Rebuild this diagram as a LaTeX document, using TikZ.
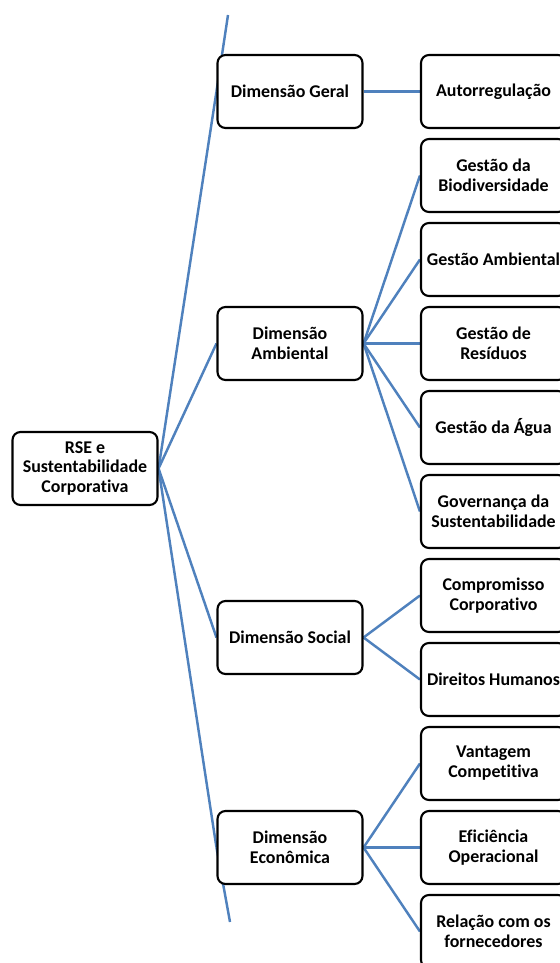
\documentclass[tikz,border=0pt]{standalone}
\usepackage{fontspec}
\setmainfont{Carlito}[Ligatures=NoCommon]
\usetikzlibrary{positioning,backgrounds}
\definecolor{linkblue}{RGB}{79,129,189}
\tikzset{
	box/.style={draw=black,line width=1.2pt,rounded corners=4.5pt,fill=white,
		minimum width=2.9cm,minimum height=1.46cm,inner sep=1pt,align=center,
		font=\fontsize{10.2}{11.3}\selectfont\bfseries},
	link/.style={draw=linkblue,line width=1.4pt}
}

\begin{document}
\begin{tikzpicture}[x=0.02cm,y=-0.02cm]
	\useasboundingbox (0,0) rectangle (560,963);
	\clip (0,0) rectangle (560,963);
	% root and dimensions
	\node[box] (root) at (85,468.5) {RSE e\\Sustentabilidade\\Corporativa};
	\node[box] (geral) at (290,91.5) {Dimensão Geral};
	\node[box] (amb) at (290,343.5) {Dimensão\\Ambiental};
	\node[box] (soc) at (290,637.5) {Dimensão Social};
	\node[box] (econ) at (290,847.5) {Dimensão\\Econômica};
	% leaves
	\node[box] (autor) at (493.5,91.5) {Autorregulação};
	\node[box] (biod) at (493.5,175.5) {Gestão da\\Biodiversidade};
	\node[box] (gamb) at (493.5,259.5) {Gestão Ambiental};
	\node[box] (resid) at (493.5,343.5) {Gestão de\\Resíduos};
	\node[box] (agua) at (493.5,427.5) {Gestão da Água};
	\node[box] (gov) at (493.5,511.5) {Governança da\\Sustentabilidade};
	\node[box] (comp) at (493.5,595.5) {Compromisso\\Corporativo};
	\node[box] (dir) at (493.5,679.5) {Direitos Humanos};
	\node[box] (vant) at (493.5,763.5) {Vantagem\\Competitiva};
	\node[box] (efic) at (493.5,847.5) {Eficiência\\Operacional};
	\node[box] (rel) at (493.5,931.5) {Relação com os\\fornecedores};
	\coordinate (topend) at (228,15);
	\coordinate (botend) at (230,922);
	\begin{scope}[on background layer]
		\draw[link] (root.east)--(geral.west);
		\draw[link] (geral.west)--(topend);
		\draw[link] (root.east)--(amb.west);
		\draw[link] (root.east)--(soc.west);
		\draw[link] (root.east)--(econ.west);
		\draw[link] (econ.west)--(botend);
		\draw[link] (geral.east)--(autor.west);
		\draw[link] (amb.east)--(biod.west);
		\draw[link] (amb.east)--(gamb.west);
		\draw[link] (amb.east)--(resid.west);
		\draw[link] (amb.east)--(agua.west);
		\draw[link] (amb.east)--(gov.west);
		\draw[link] (soc.east)--(comp.west);
		\draw[link] (soc.east)--(dir.west);
		\draw[link] (econ.east)--(vant.west);
		\draw[link] (econ.east)--(efic.west);
		\draw[link] (econ.east)--(rel.west);
	\end{scope}
\end{tikzpicture}
\end{document}
